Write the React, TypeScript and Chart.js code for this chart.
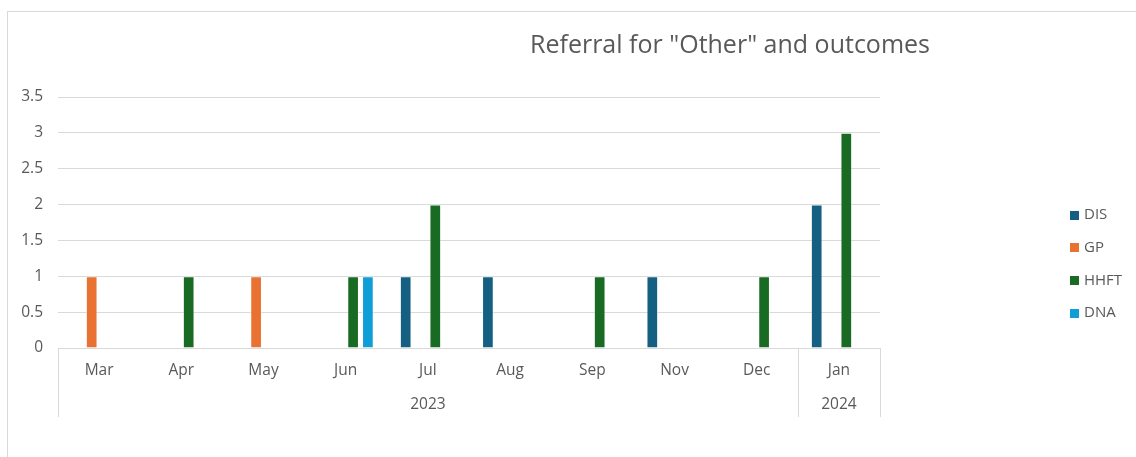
import React, { useEffect, useRef } from 'react';
import { Chart, registerables } from 'chart.js';

Chart.register(...registerables);

const months = ['Mar', 'Apr', 'May', 'Jun', 'Jul', 'Aug', 'Sep', 'Nov', 'Dec', 'Jan'];
const yearLabels = ['2023', '2024'];
const yearSpans = [9, 1];

const seriesNames = ['DIS', 'GP', 'HHFT', 'DNA'];
const seriesColors = ['#156082', '#E97132', '#196B24', '#0F9ED5'];

const disValues = [null, null, null, null, 1, 1, null, 1, null, 2];
const gpValues = [1, null, 1, null, null, null, null, null, null, null];
const hhftValues = [null, 1, null, 1, 2, null, 1, null, 1, 3];
const dnaValues = [null, null, null, 1, null, null, null, null, null, null];

const yMax = 3.5;
const yStep = 0.5;

const titleText = 'Referral for "Other" and outcomes';

const FONT = '"Open Sans", "Liberation Sans", sans-serif';
const TEXT_COLOR = '#595959';
const LINE_COLOR = '#d9d9d9';

const overlayPlugin = {
  id: 'overlay',
  afterDraw(chart: any) {
    const ctx = chart.ctx;
    const xs = chart.scales.x;
    const area = chart.chartArea;
    ctx.save();
    ctx.strokeStyle = LINE_COLOR;
    ctx.lineWidth = 1;
    const top = area.bottom;
    const bottom = area.bottom + 69;
    const bounds: number[] = [xs.left];
    let idx = 0;
    yearSpans.forEach((n) => {
      idx += n;
      const b = idx >= months.length
        ? xs.right
        : (xs.getPixelForValue(idx - 1) + xs.getPixelForValue(idx)) / 2;
      bounds.push(b);
    });
    bounds.forEach((b) => {
      const px = Math.round(b) + 0.5;
      ctx.beginPath();
      ctx.moveTo(px, top);
      ctx.lineTo(px, bottom);
      ctx.stroke();
    });
    ctx.fillStyle = TEXT_COLOR;
    ctx.textAlign = 'center';
    ctx.textBaseline = 'middle';
    ctx.font = `15.5px ${FONT}`;
    yearLabels.forEach((y, i) => {
      ctx.fillText(y, (bounds[i] + bounds[i + 1]) / 2, area.bottom + 57);
    });
    // title
    ctx.font = `25px ${FONT}`;
    ctx.fillText(titleText, 730, 46);
    // legend
    ctx.textAlign = 'left';
    ctx.font = `15px ${FONT}`;
    chart.data.datasets.forEach((ds: any, i: number) => {
      const cy = 215 + i * 32.7;
      ctx.fillStyle = ds.backgroundColor;
      ctx.fillRect(1070, Math.round(cy - 4.5), 9, 9);
      ctx.fillStyle = TEXT_COLOR;
      ctx.fillText(ds.label, 1084, cy);
    });
    ctx.restore();
  },
};

export default function App() {
  const canvasRef = useRef<HTMLCanvasElement | null>(null);

  useEffect(() => {
    document.body.style.overflow = 'hidden';
    const canvas = canvasRef.current;
    if (!canvas) return;
    const valuesList = [disValues, gpValues, hhftValues, dnaValues];
    const chart = new Chart(canvas, {
      type: 'bar',
      data: {
        labels: months,
        datasets: seriesNames.map((name, i) => ({
          label: name,
          data: valuesList[i] as any,
          backgroundColor: seriesColors[i],
          borderColor: 'rgba(255,255,255,0.35)',
          borderWidth: 1,
          barPercentage: 0.79,
          categoryPercentage: 0.72,
        })),
      },
      options: {
        responsive: false,
        animation: false,
        devicePixelRatio: 1,
        layout: { padding: { left: 8, right: 256, top: 97, bottom: 0 } },
        plugins: {
          legend: { display: false },
          title: { display: false },
          tooltip: { enabled: false },
        },
        scales: {
          x: {
            grid: { display: false, drawTicks: false },
            border: { display: true, color: LINE_COLOR, width: 1 },
            ticks: {
              color: TEXT_COLOR,
              font: { family: FONT, size: 15.5 },
              padding: 13,
              maxRotation: 0,
              autoSkip: false,
            },
            afterFit: (scale: any) => {
              scale.height = 109;
            },
          },
          y: {
            min: 0,
            max: yMax,
            grid: { color: LINE_COLOR, drawTicks: false, lineWidth: 1 },
            border: { display: false },
            ticks: {
              stepSize: yStep,
              color: TEXT_COLOR,
              font: { family: FONT, size: 15.5 },
              padding: 15,
              callback: (v: any) => String(Number(v)),
            },
            afterFit: (scale: any) => {
              scale.width = 50;
            },
          },
        },
      },
      plugins: [overlayPlugin],
    });
    return () => chart.destroy();
  }, []);

  return (
    <div style={{ position: 'absolute', left: 0, top: 0, width: 1136, height: 457 }}>
      <div
        style={{
          position: 'absolute',
          left: 7,
          top: 11,
          width: 1140,
          height: 460,
          borderLeft: `1px solid ${LINE_COLOR}`,
          borderTop: `1px solid ${LINE_COLOR}`,
        }}
      />
      <canvas
        ref={canvasRef}
        width={1136}
        height={457}
        style={{ position: 'absolute', left: 0, top: 0, width: 1136, height: 457 }}
      />
    </div>
  );
}
